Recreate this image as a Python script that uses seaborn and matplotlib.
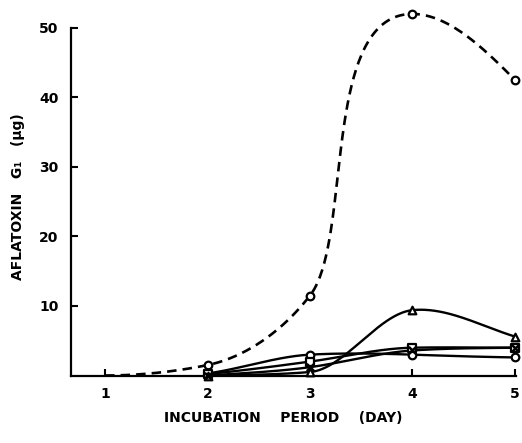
import numpy as np
import pandas as pd
import matplotlib
matplotlib.use("Agg")
import matplotlib.pyplot as plt
import seaborn as sns

# ---------------- data ----------------
dashed_days = [1, 2, 3, 4, 5]
dashed_vals = [0.0, 1.5, 11.5, 52.0, 42.5]

solid_days = [2, 3, 4, 5]
circle_vals = [0.3, 3.0, 3.0, 2.6]
square_vals = [0.2, 2.0, 4.0, 4.0]
cross_vals = [0.0, 1.2, 3.6, 4.0]
triangle_vals = [0.0, 0.5, 9.4, 5.6]

xticks = [1, 2, 3, 4, 5]
yticks = [10, 20, 30, 40, 50]
xlabel = "INCUBATION    PERIOD    (DAY)"
ylabel = "AFLATOXIN   G\u2081   (\u03bcg)"

# ---------------- curve shape (style: tangent slopes / handle lengths) ----------------
dashed_slopes = [0.0, 3.0, 19.0, 0.0, -15.0]
dashed_hin = [0.0, 0.33, 0.30, 0.90, 0.30]
dashed_hout = [0.33, 0.33, 0.42, 0.35, 0.0]

solid_slopes = {
    "circle": [2.0, 0.8, -0.5, -0.2],
    "square": [1.5, 2.0, 0.3, 0.0],
    "cross": [1.0, 2.0, 1.0, 0.2],
    "triangle": [0.2, 1.2, 1.5, -4.5],
}


def bezier_curve(xs, ys, slopes, h_in, h_out, n=80):
    X, Y = [], []
    for i in range(len(xs) - 1):
        p0 = np.array([xs[i], ys[i]], float)
        p3 = np.array([xs[i + 1], ys[i + 1]], float)
        p1 = p0 + h_out[i] * np.array([1.0, slopes[i]])
        p2 = p3 - h_in[i + 1] * np.array([1.0, slopes[i + 1]])
        t = np.linspace(0, 1, n)[:, None]
        pts = ((1 - t) ** 3) * p0 + 3 * ((1 - t) ** 2) * t * p1 + 3 * (1 - t) * (t ** 2) * p2 + (t ** 3) * p3
        X.extend(pts[:, 0]); Y.extend(pts[:, 1])
    return np.array(X), np.array(Y)


sns.set_style("ticks")
plt.rcParams["font.family"] = ["DejaVu Sans"]
plt.rcParams["font.weight"] = "bold"
plt.rcParams["text.color"] = "black"

fig = plt.figure(figsize=(5.22, 4.43), dpi=100)
ax = fig.add_axes([71 / 522, (443 - 375.5) / 443, 445 / 522, 368.5 / 443])

# dashed curve
dx, dy = bezier_curve(dashed_days, dashed_vals, dashed_slopes, dashed_hin, dashed_hout)
ax.plot(dx, dy, color="black", lw=1.9, linestyle=(0, (3.6, 2.3)), clip_on=False, zorder=3)

# solid curves
series = {
    "circle": circle_vals,
    "square": square_vals,
    "cross": cross_vals,
    "triangle": triangle_vals,
}
third = [1 / 3.0] * len(solid_days)
for name, vals in series.items():
    sx, sy = bezier_curve(solid_days, vals, solid_slopes[name], third, third)
    ax.plot(sx, sy, color="black", lw=1.7, clip_on=False, zorder=3)

# markers
rows = []
for d, v in zip(dashed_days[1:], dashed_vals[1:]):
    rows.append({"day": d, "val": v, "kind": "dash"})
for name, vals in series.items():
    for d, v in zip(solid_days, vals):
        rows.append({"day": d, "val": v, "kind": name})
df = pd.DataFrame(rows)

marker_map = {"dash": "o", "circle": "o", "square": "s", "triangle": "^"}
for kind, mk in marker_map.items():
    sub = df[df.kind == kind]
    sns.scatterplot(data=sub, x="day", y="val", marker=mk, s=30, facecolor="white",
                    edgecolor="black", linewidth=1.6, ax=ax, zorder=5, clip_on=False, legend=False)
sub = df[df.kind == "cross"]
sns.scatterplot(data=sub, x="day", y="val", marker="x", s=28, color="black",
                linewidth=1.8, ax=ax, zorder=5, clip_on=False, legend=False)

ax.set_xlim(1 - 34 / 102.5, 5 + 1 / 102.5)
ax.set_ylim(0, 53)
ax.spines["left"].set_bounds(0, 50)
for s in ["top", "right"]:
    ax.spines[s].set_visible(False)
for s in ["left", "bottom"]:
    ax.spines[s].set_linewidth(1.6)
    ax.spines[s].set_color("black")

ax.set_xticks(xticks)
ax.set_xticklabels([str(t) for t in xticks])
ax.set_yticks(yticks)
ax.set_yticklabels([str(t) for t in yticks])
ax.tick_params(axis="both", direction="in", length=5, width=1.5, colors="black",
               labelsize=10, labelcolor="black")
ax.tick_params(axis="x", pad=8)
ax.tick_params(axis="y", pad=9)
for lab in ax.get_xticklabels() + ax.get_yticklabels():
    lab.set_fontweight("bold")

ax.set_xlabel("")
ax.set_ylabel("")
fig.text(283 / 522, (443 - 418) / 443, xlabel, ha="center", va="center",
         fontsize=10, fontweight="bold", color="black")
fig.text(18 / 522, (443 - 197) / 443, ylabel, ha="center", va="center",
         rotation=90, fontsize=10, fontweight="bold", color="black")

fig.savefig("out.png", dpi=100)
